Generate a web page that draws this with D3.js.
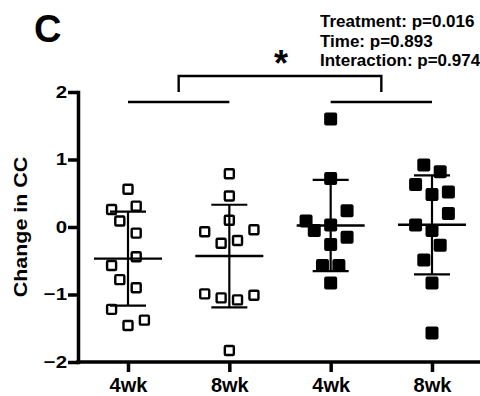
<!DOCTYPE html>
<html>
<head>
<meta charset="utf-8">
<script src="https://cdn.jsdelivr.net/npm/d3@7"></script>
<style>
  body { margin: 0; background: #fff; }
  svg { display: block; font-family: "Liberation Sans", Arial, sans-serif; font-weight: bold; }
</style>
</head>
<body>
<svg id="chart" width="480" height="396"></svg>
<script>
// groups on the x axis
const categories = ["4wk", "8wk", "4wk", "8wk"];
const filled = [false, false, true, true];

// change in CC per subject
const g4wkA = [0.56, 0.26, 0.31, 0.09, -0.09, -0.44, -0.57, -0.78, -0.90, -1.22, -1.46, -1.38];
const g8wkA = [0.79, 0.46, 0.10, -0.07, -0.24, -0.20, -0.04, -0.99, -1.05, -1.08, -1.01, -1.83];
const g4wkB = [1.60, 0.72, 0.24, 0.09, -0.05, 0.03, -0.15, -0.26, -0.57, -0.57, -0.83];
const g8wkB = [0.92, 0.82, 0.63, 0.52, 0.48, 0.20, 0.03, -0.05, -0.27, -0.49, -0.83, -1.57];

// scatter column (jitter slot) of each subject, same order as above
const slots4wkA = [0, -2, 1, -1, 1, 1, -2, -1, 1, -2, 0, 2];
const slots8wkA = [0, 0, 0, -3, -1, 1, 3, -3, -1, 1, 3, 0];
const slots4wkB = [0, 0, 2, -3, -2, 0, 2, 0, -1, 1, 0];
const slots8wkB = [-1, 1, -2, 2, 0, 2, -2, 0, 1, -1, 0, 0];

const yTicks = [-2, -1, 0, 1, 2];
const stats = ["Treatment: p=0.016", "Time: p=0.893", "Interaction: p=0.974"];

const groups = [g4wkA, g8wkA, g4wkB, g8wkB];
const slots = [slots4wkA, slots8wkA, slots4wkB, slots8wkB];

const svg = d3.select("#chart");
const width = +svg.attr("width");
const margin = { top: 92, right: 0, bottom: 34, left: 78 };
const plotBottom = +svg.attr("height") - margin.bottom;

const y = d3.scaleLinear().domain([-2, 2]).range([plotBottom, margin.top]);
const x = d3.scalePoint().domain(d3.range(categories.length)).range([128, 432]);
const jitter = d3.scaleLinear().domain([-1, 1]).range([-8.2, 8.2]);

// stretch text a little wider, the original uses a wide bold face
function widen(sel, k) {
  sel.each(function () {
    const w = this.getComputedTextLength();
    d3.select(this).attr("textLength", w * k).attr("lengthAdjust", "spacingAndGlyphs");
  });
}

// y axis
const yAxis = svg.append("g")
  .attr("transform", `translate(${margin.left},0)`)
  .call(d3.axisLeft(y).tickValues(yTicks).tickSize(10).tickSizeOuter(0).tickPadding(1).tickFormat(d3.format("d")));
yAxis.select(".domain").attr("stroke-width", 3.5).attr("stroke-linecap", "square");
yAxis.selectAll(".tick line").attr("stroke-width", 3.5);
yAxis.selectAll(".tick text").attr("font-size", 17).attr("font-family", null).attr("fill", "#000")
  .call(widen, 1.2);

// x axis
svg.append("line")
  .attr("x1", margin.left).attr("x2", width)
  .attr("y1", plotBottom).attr("y2", plotBottom)
  .attr("stroke", "#000").attr("stroke-width", 3.5).attr("stroke-linecap", "square");
const xAxis = svg.append("g")
  .attr("transform", `translate(0,${plotBottom})`)
  .call(d3.axisBottom(x).tickSize(10).tickPadding(6).tickFormat(i => categories[i]));
xAxis.select(".domain").remove();
xAxis.selectAll(".tick line").attr("stroke-width", 3.5);
xAxis.selectAll(".tick text").attr("font-size", 20).attr("font-family", null).attr("fill", "#000");

// axis title
svg.append("text")
  .attr("transform", `translate(27,${y(0)}) rotate(-90)`)
  .attr("text-anchor", "middle")
  .attr("font-size", 19)
  .text("Change in CC")
  .call(widen, 1.13);

// panel letter
svg.append("text").attr("x", 34).attr("y", 42).attr("font-size", 38).text("C");

// stats
svg.append("g").selectAll("text")
  .data(stats)
  .join("text")
  .attr("x", 320)
  .attr("y", (d, i) => 27 + i * 19.5)
  .attr("font-size", 17)
  .text(d => d);

// scatter
groups.forEach((vals, gi) => {
  const g = svg.append("g");
  const pts = vals.map((v, i) => ({ v, s: slots[gi][i] }));
  if (filled[gi]) {
    g.selectAll("rect")
      .data(pts)
      .join("rect")
      .attr("x", d => x(gi) + jitter(d.s) - 6.5)
      .attr("y", d => y(d.v) - 6.5)
      .attr("width", 13).attr("height", 13)
      .attr("rx", 2)
      .attr("fill", "#000");
  } else {
    g.selectAll("rect")
      .data(pts)
      .join("rect")
      .attr("x", d => x(gi) + jitter(d.s) - 4.5)
      .attr("y", d => y(d.v) - 4.5)
      .attr("width", 9).attr("height", 9)
      .attr("rx", 1)
      .attr("fill", "#fff")
      .attr("stroke", "#000")
      .attr("stroke-width", 2.4);
  }

  // mean +/- SD
  const m = d3.mean(vals);
  const sd = d3.deviation(vals);
  const cx = x(gi);
  g.append("line").attr("x1", cx).attr("x2", cx).attr("y1", y(m + sd)).attr("y2", y(m - sd))
    .attr("stroke", "#000").attr("stroke-width", 2.2);
  [m + sd, m - sd].forEach(v => {
    g.append("line").attr("x1", cx - 18).attr("x2", cx + 18).attr("y1", y(v)).attr("y2", y(v))
      .attr("stroke", "#000").attr("stroke-width", 2.2);
  });
  g.append("line").attr("x1", cx - 34).attr("x2", cx + 34).attr("y1", y(m)).attr("y2", y(m))
    .attr("stroke", "#000").attr("stroke-width", 2.4);
});

// significance bracket between treatment groups
const pairY = 102;
const brY = 76;
[[0, 1], [2, 3]].forEach(([a, b]) => {
  svg.append("line").attr("x1", x(a)).attr("x2", x(b)).attr("y1", pairY).attr("y2", pairY)
    .attr("stroke", "#000").attr("stroke-width", 2.4);
});
const leftMid = (x(0) + x(1)) / 2;
const rightMid = (x(2) + x(3)) / 2;
svg.append("path")
  .attr("d", `M${leftMid},${pairY - 10}V${brY}H${rightMid}V${pairY - 10}`)
  .attr("fill", "none").attr("stroke", "#000").attr("stroke-width", 2.4);
svg.append("text")
  .attr("x", (leftMid + rightMid) / 2 + 1).attr("y", 76)
  .attr("text-anchor", "middle")
  .attr("font-size", 36)
  .text("*");
</script>
</body>
</html>
